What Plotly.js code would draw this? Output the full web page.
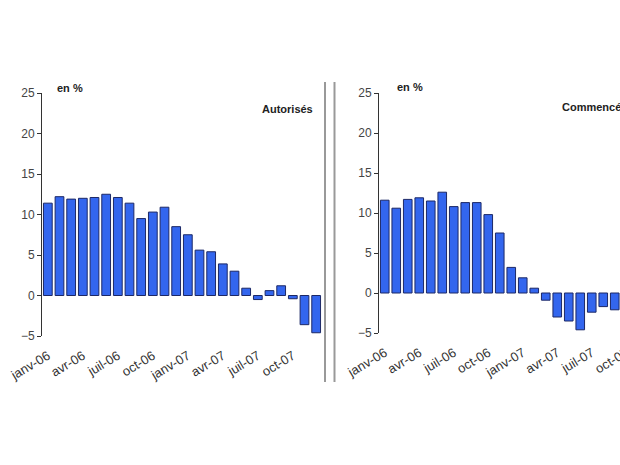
<!DOCTYPE html>
<html>
<head>
<meta charset="utf-8">
<script src="https://cdn.plot.ly/plotly-3.0.1.min.js"></script>
<style>
html,body{margin:0;padding:0;overflow:hidden;background:#fff;}
#chart{width:660px;height:465px;}
</style>
</head>
<body>
<div id="chart"></div>
<script>
// Months (categories)
const months = ['janv-06','févr-06','mars-06','avr-06','mai-06','juin-06','juil-06','août-06','sept-06','oct-06','nov-06','déc-06',
                'janv-07','févr-07','mars-07','avr-07','mai-07','juin-07','juil-07','août-07','sept-07','oct-07','nov-07','déc-07'];
// Tick labels shown (every quarter)
const tickLabels = ['janv-06','avr-06','juil-06','oct-06','janv-07','avr-07','juil-07','oct-07'];
// Series values (en %)
const autorises = [11.4,12.2,11.9,12.0,12.1,12.5,12.1,11.4,9.5,10.3,10.9,8.5,7.5,5.6,5.4,3.9,3.0,0.9,-0.5,0.6,1.2,-0.4,-3.6,-4.6];
const commences = [11.6,10.6,11.7,11.9,11.5,12.6,10.8,11.3,11.3,9.8,7.5,3.2,1.9,0.6,-0.9,-3.0,-3.5,-4.6,-2.4,-1.7,-2.1];
const panelTitles = ['Autorisés','Commencés'];
const unitLabel = 'en %';

const W = 660, H = 465;
const px = v => v / W;
const py = v => (H - v) / H;
const yMin = -5, yMax = 25;

const leftX = [px(42), px(322)];
const leftY = [py(336), py(93)];
const rightX = [px(379), px(655)];
const rightY = [py(333), py(93)];
const zeroPos = d => d[0] + (0 - yMin) / (yMax - yMin) * (d[1] - d[0]);

const fontFam = 'Liberation Sans, Arial, sans-serif';
const barStyle = {color:'#3366ee', line:{color:'#1c2866', width:1}};

const traces = [
  {type:'bar', x: months.slice(0, autorises.length), y: autorises, xaxis:'x', yaxis:'y', marker: barStyle, hoverinfo:'x+y'},
  {type:'bar', x: months.slice(0, commences.length), y: commences, xaxis:'x2', yaxis:'y2', marker: barStyle, hoverinfo:'x+y'}
];

function catAxis(domain, anchor) {
  return {
    domain: domain, anchor: anchor, type:'category',
    categoryorder:'array', categoryarray: months,
    range:[-0.5, months.length - 0.5],
    tickmode:'array', tickvals: tickLabels, ticktext: tickLabels,
    tickangle:-31, ticks:'', ticklabelstandoff:9, showline:false, showgrid:false, zeroline:false,
    tickfont:{family:fontFam, size:13, color:'#333'}, fixedrange:true
  };
}
function zeroAxis(overlay, domain, ydom) {
  return {
    overlaying: overlay, anchor:'free', position: zeroPos(ydom), domain: domain,
    type:'linear', range:[-0.5, months.length - 0.5],
    tickmode:'linear', tick0:0.5, dtick:1,
    ticks:'outside', ticklen:4, tickcolor:'#222', tickwidth:1,
    showline:true, linecolor:'#222', linewidth:1,
    showticklabels:false, showgrid:false, zeroline:false, fixedrange:true
  };
}
function valAxis(domain, anchor) {
  return {
    domain: domain, anchor: anchor, range:[yMin, yMax], tickmode:'linear', tick0:0, dtick:5,
    ticks:'outside', ticklen:4, tickcolor:'#333', showline:true, linecolor:'#333', linewidth:1,
    showgrid:false, zeroline:false, tickfont:{family:fontFam, size:12, color:'#444'}, fixedrange:true
  };
}

const layout = {
  width: W, height: H,
  margin:{l:0, r:0, t:0, b:0, pad:0},
  paper_bgcolor:'#fff', plot_bgcolor:'rgba(0,0,0,0)',
  showlegend:false, bargap:0.25,
  xaxis: catAxis(leftX, 'y'),
  yaxis: valAxis(leftY, 'x'),
  xaxis2: catAxis(rightX, 'y2'),
  yaxis2: valAxis(rightY, 'x2'),
  xaxis3: zeroAxis('x', leftX, leftY),
  xaxis4: zeroAxis('x2', rightX, rightY),
  shapes: [
    {type:'line', xref:'paper', yref:'paper', x0:px(325), x1:px(325), y0:py(382), y1:py(82), line:{color:'#999', width:2}},
    {type:'line', xref:'paper', yref:'paper', x0:px(334.5), x1:px(334.5), y0:py(382), y1:py(82), line:{color:'#999', width:2}}
  ],
  annotations: [
    {xref:'paper', yref:'paper', x:px(55), y:py(88), xanchor:'left', yanchor:'middle', showarrow:false,
     text:'<b>'+unitLabel+'</b>', font:{family:fontFam, size:11, color:'#222'}},
    {xref:'paper', yref:'paper', x:px(395), y:py(87), xanchor:'left', yanchor:'middle', showarrow:false,
     text:'<b>'+unitLabel+'</b>', font:{family:fontFam, size:11, color:'#222'}},
    {xref:'paper', yref:'paper', x:px(315), y:py(109), xanchor:'right', yanchor:'middle', showarrow:false,
     text:'<b>'+panelTitles[0]+'</b>', font:{family:fontFam, size:11, color:'#222'}},
    {xref:'paper', yref:'paper', x:px(560), y:py(107), xanchor:'left', yanchor:'middle', showarrow:false,
     text:'<b>'+panelTitles[1]+'</b>', font:{family:fontFam, size:11, color:'#222'}}
  ]
};

Plotly.newPlot('chart', traces, layout, {displayModeBar:false, staticPlot:true});
</script>
</body>
</html>
